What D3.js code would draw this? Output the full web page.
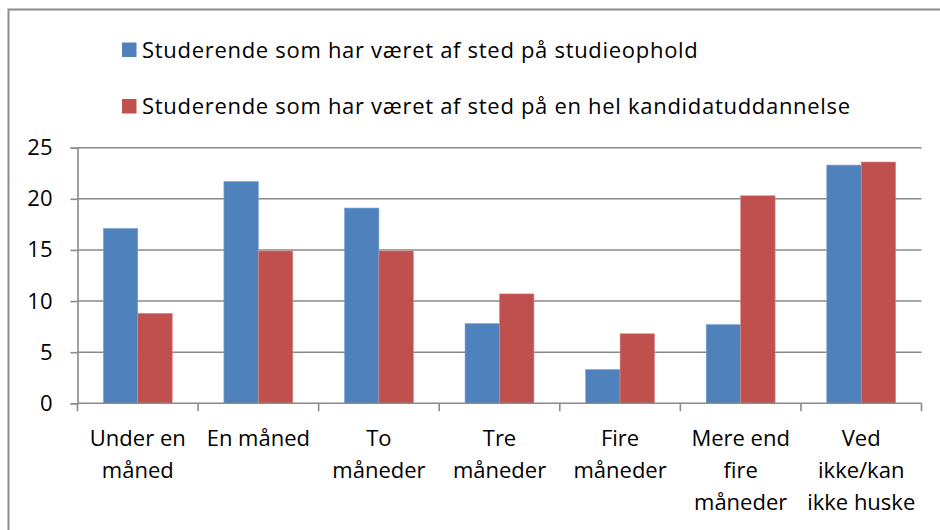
<!DOCTYPE html>
<html>
<head>
<meta charset="utf-8">
<script src="https://cdn.jsdelivr.net/npm/d3@7"></script>
<style>
  html, body { margin: 0; padding: 0; background: #fff; }
  svg { display: block; font-family: "Open Sans", "Noto Sans", sans-serif; }
</style>
</head>
<body>
<svg id="chart" width="940" height="530"></svg>
<script>
// Share of students (%) by length of stay
const categories = [
  ["Under en", "måned"],
  ["En måned"],
  ["To", "måneder"],
  ["Tre", "måneder"],
  ["Fire", "måneder"],
  ["Mere end", "fire", "måneder"],
  ["Ved", "ikke/kan", "ikke huske"]
];
const seriesNames = [
  "Studerende som har været af sted på studieophold",
  "Studerende som har været af sted på en hel kandidatuddannelse"
];
const studieophold = [17.1, 21.7, 19.1, 7.8, 3.3, 7.7, 23.3];
const kandidat = [8.8, 14.9, 14.9, 10.7, 6.8, 20.3, 23.6];
const yTicks = [0, 5, 10, 15, 20, 25];
const colors = ["#4F81BD", "#C0504D"];

const FONT = "'Open Sans', 'Noto Sans', sans-serif";
const FS = 22;

const svg = d3.select("#chart");
const margin = { left: 77.5, right: 921.5, top: 147.7, bottom: 403.3 };

// Outer chart frame (extends past the right and bottom edge)
svg.append("rect")
  .attr("x", 8.5).attr("y", 9.5)
  .attr("width", 1000).attr("height", 1000)
  .attr("fill", "none").attr("stroke", "#8c8c8c").attr("stroke-width", 2);

const x = d3.scaleBand()
  .domain(d3.range(categories.length))
  .range([margin.left, margin.right])
  .paddingInner(0).paddingOuter(0);

const y = d3.scaleLinear().domain([0, 25]).range([margin.bottom, margin.top]);

// Horizontal gridlines
svg.append("g")
  .selectAll("line")
  .data(yTicks.filter(d => d > 0))
  .join("line")
  .attr("x1", margin.left).attr("x2", margin.right)
  .attr("y1", d => y(d)).attr("y2", d => y(d))
  .attr("stroke", "#8a8a8a").attr("stroke-width", 1.6);

// Bars: two series per category, Excel-like 150% gap width
const bw = x.bandwidth() / 3.5;
const series = [studieophold, kandidat];
series.forEach((vals, si) => {
  svg.append("g")
    .selectAll("rect")
    .data(vals)
    .join("rect")
    .attr("x", (d, i) => x(i) + x.bandwidth() / 2 - bw + si * bw)
    .attr("y", d => y(d))
    .attr("width", bw)
    .attr("height", d => y(0) - y(d))
    .attr("fill", colors[si])
    .attr("stroke", si === 0 ? "#7fa6d6" : "#d98a88")
    .attr("stroke-width", 0.6);
});

// Y axis
const yAxis = d3.axisLeft(y).tickValues(yTicks).tickSize(7).tickPadding(18).tickFormat(d3.format("d"));
const gy = svg.append("g").attr("transform", `translate(${margin.left},0)`).call(yAxis);
gy.select(".domain").attr("stroke", "#8a8a8a").attr("stroke-width", 1.6);
gy.selectAll(".tick line").attr("stroke", "#8a8a8a").attr("stroke-width", 1.6);
gy.selectAll(".tick text")
  .attr("font-size", FS).attr("fill", "#000")
  .attr("font-family", FONT);

// X axis with ticks at category boundaries
const boundaries = d3.range(categories.length + 1).map(i => margin.left + i * x.bandwidth());
svg.append("line")
  .attr("x1", margin.left).attr("x2", margin.right)
  .attr("y1", y(0)).attr("y2", y(0))
  .attr("stroke", "#8a8a8a").attr("stroke-width", 1.6);
svg.append("g")
  .selectAll("line")
  .data(boundaries)
  .join("line")
  .attr("x1", d => d).attr("x2", d => d)
  .attr("y1", y(0)).attr("y2", y(0) + 8)
  .attr("stroke", "#8a8a8a").attr("stroke-width", 1.6);

// Category labels (multi-line)
const lab = svg.append("g")
  .selectAll("text")
  .data(categories)
  .join("text")
  .attr("x", (d, i) => x(i) + x.bandwidth() / 2)
  .attr("y", 446)
  .attr("text-anchor", "middle")
  .attr("font-size", FS)
  .attr("fill", "#000");
lab.selectAll("tspan")
  .data(d => d)
  .join("tspan")
  .attr("x", function () { return this.parentNode.getAttribute("x"); })
  .attr("dy", (d, i) => i === 0 ? 0 : 32)
  .text(d => d);

// Legend
const legend = svg.append("g");
seriesNames.forEach((name, i) => {
  const ly = 42.5 + i * 56.5;
  legend.append("rect")
    .attr("x", 122).attr("y", ly).attr("width", 14.5).attr("height", 14.5)
    .attr("fill", colors[i]);
  legend.append("text")
    .attr("x", 142).attr("y", ly + 15)
    .attr("font-size", FS).attr("letter-spacing", 0.7).attr("fill", "#000")
    .text(name);
});
</script>
</body>
</html>
